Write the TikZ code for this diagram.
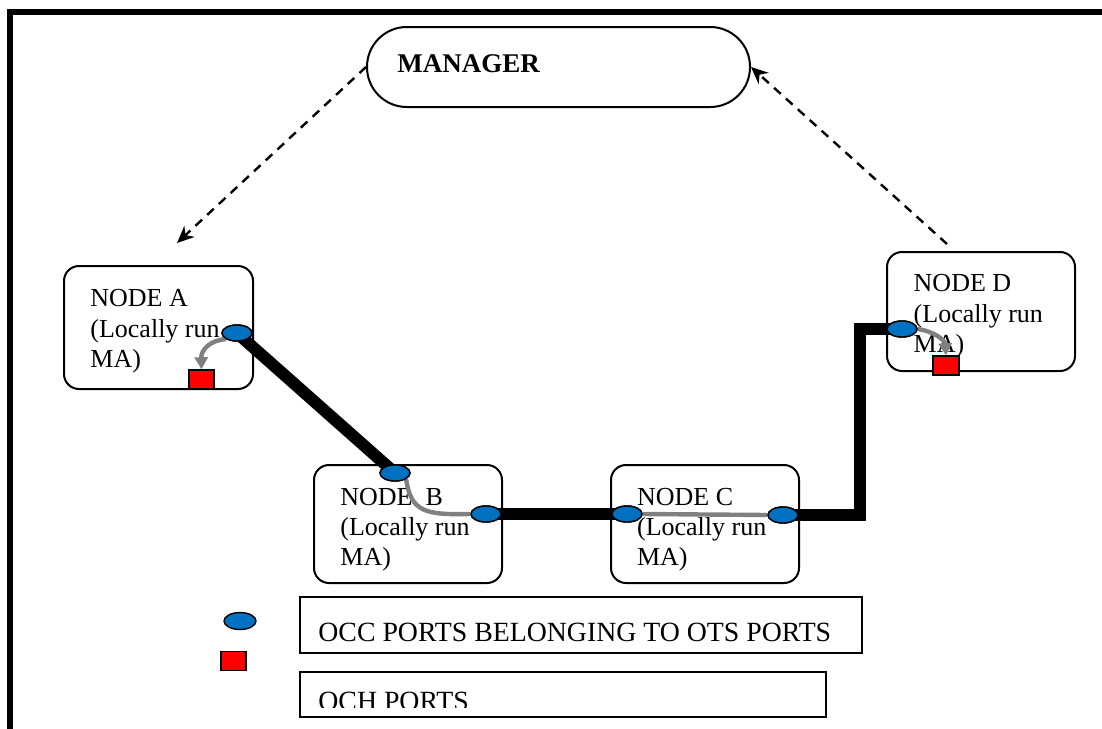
\documentclass[tikz,border=0pt]{standalone}
\usepackage{fontspec}
\setmainfont{Liberation Serif}
\usetikzlibrary{arrows.meta,shapes.geometric}
\definecolor{portblue}{HTML}{0070C0}
\definecolor{linegray}{HTML}{808080}
\tikzset{
  nodebox/.style={draw, line width=1pt, rounded corners=7.5pt, inner sep=0pt},
  mgrbox/.style={draw, line width=1pt, rounded corners=19.9pt, inner sep=0pt, minimum width=191.5pt, minimum height=40pt},
  boxtext/.style={anchor=base west, inner sep=0pt, font=\fontsize{13}{15.2}\selectfont},
  legtext/.style={anchor=base west, inner sep=0pt, font=\fontsize{13.9}{16}\selectfont},
  legbox/.style={draw, line width=0.8pt, inner sep=0pt},
  port/.style={ellipse, draw, line width=0.7pt, fill=portblue, inner sep=0pt, minimum width=15pt, minimum height=8pt},
  och/.style={rectangle, draw, line width=0.7pt, fill=red, inner sep=0pt, minimum width=12.5pt, minimum height=9.5pt},
  thick link/.style={line width=6pt},
  graylink/.style={draw=linegray, line width=2.2pt},
  grayarrow/.style={graylink, -{Triangle[length=6pt,width=6.5pt]}},
  dasharrow/.style={line width=1.2pt, dash pattern=on 4.5pt off 3.5pt, -{Stealth[length=8.5pt,width=7.5pt]}},
  frame/.style={line width=2.7pt}
}
\begin{document}
\begin{tikzpicture}[x=0.5pt, y=-0.5pt]
\useasboundingbox (0,0) rectangle (1102,728);
\clip (0,0) rectangle (1102,728);
% outer frame (cut off on right and bottom)
\draw[frame] (10,760) -- (10,12) -- (1130,12);

% manager
\node[mgrbox] (mgr) at (558.5,67) {};
\node[anchor=base west, inner sep=0pt, font=\fontsize{13.5}{16}\selectfont\bfseries] (mgrt) at (397,72.7) {MANAGER};

% node boxes
\node[nodebox, minimum width=94.5pt, minimum height=61.5pt] (nA) at (158.5,327.5) {};
\node[nodebox, minimum width=94pt, minimum height=59pt] (nB) at (408,524) {};
\node[nodebox, minimum width=94pt, minimum height=59pt] (nC) at (705,524) {};
\node[nodebox, minimum width=94pt, minimum height=59.5pt] (nD) at (981,311.5) {};

% texts
\node[boxtext] (tA) at (90,306.7) {\begin{tabular}[t]{@{}l@{}}NODE A\\(Locally run\\MA)\end{tabular}};
\node[boxtext] (tB) at (340,505) {\begin{tabular}[t]{@{}l@{}}NODE\ \ B\\(Locally run\\MA)\end{tabular}};
\node[boxtext] (tC) at (636.7,505) {\begin{tabular}[t]{@{}l@{}}NODE C\\(Locally run\\MA)\end{tabular}};
\node[boxtext] (tD) at (913.3,291.7) {\begin{tabular}[t]{@{}l@{}}NODE D\\(Locally run\\MA)\end{tabular}};

% dashed arrows
\coordinate (dA) at (177,243);
\coordinate (dD) at (947,244);
\draw[dasharrow] (mgr.west) -- (dA);
\draw[dasharrow] (dD) -- (mgr.east);

% port positions
\coordinate (cA) at (237,333);
\coordinate (cBt) at (395,473);
\coordinate (cBr) at (486,514);
\coordinate (cCl) at (627,514);
\coordinate (cCr) at (783,515);
\coordinate (cD) at (902,329);
\coordinate (k1) at (860,515);
\coordinate (k2) at (860,329);

% thick links
\draw[thick link] (cA) -- (cBt);
\draw[thick link] (cBr) -- (cCl);
\draw[thick link] (cCr) -- (k1) -- (k2) -- (cD);

% port nodes
\node[port] (pA) at (cA) {};
\node[port] (pBt) at (cBt) {};
\node[port] (pBr) at (cBr) {};
\node[port] (pCl) at (cCl) {};
\node[port] (pCr) at (cCr) {};
\node[port] (pD) at (cD) {};

% och squares
\node[och] (sqA) at (201.5,379.5) {};
\node[och, minimum width=13pt] (sqD) at (946,365.5) {};

% gray internal links
\draw[grayarrow] (pA.south west) .. controls (210,340) and (201,350) .. (sqA.north);
\draw[graylink] (pBt.south east) .. controls (411,512) and (425,515) .. (pBr.west);
\draw[graylink] (pCl.east) -- (pCr.west);
\draw[grayarrow] (pD.east) .. controls (933,331) and (945,340) .. (sqD.north);

% ports drawn again over the gray links
\node[port] at (cA) {};
\node[port] at (cBt) {};
\node[port] at (cBr) {};
\node[port] at (cCl) {};
\node[port] at (cCr) {};
\node[port] at (cD) {};

% legend
\node[port, minimum width=16pt, minimum height=8.5pt] (lp) at (240,621) {};
\node[legbox, minimum width=281pt, minimum height=28pt] (lb1) at (581,625) {};
\node[legtext] (lt1) at (318,641) {OCC PORTS BELONGING TO OTS PORTS};
\node[och, minimum width=12.5pt, minimum height=9.5pt] (lsq) at (233.5,661) {};
\node[legbox, minimum width=263pt, minimum height=22.5pt] (lb2) at (563,694.5) {};
\begin{scope}
\clip (301,673) rectangle (825,707);
\node[legtext] (lt2) at (318,710) {OCH PORTS};
\end{scope}
\end{tikzpicture}
\end{document}
